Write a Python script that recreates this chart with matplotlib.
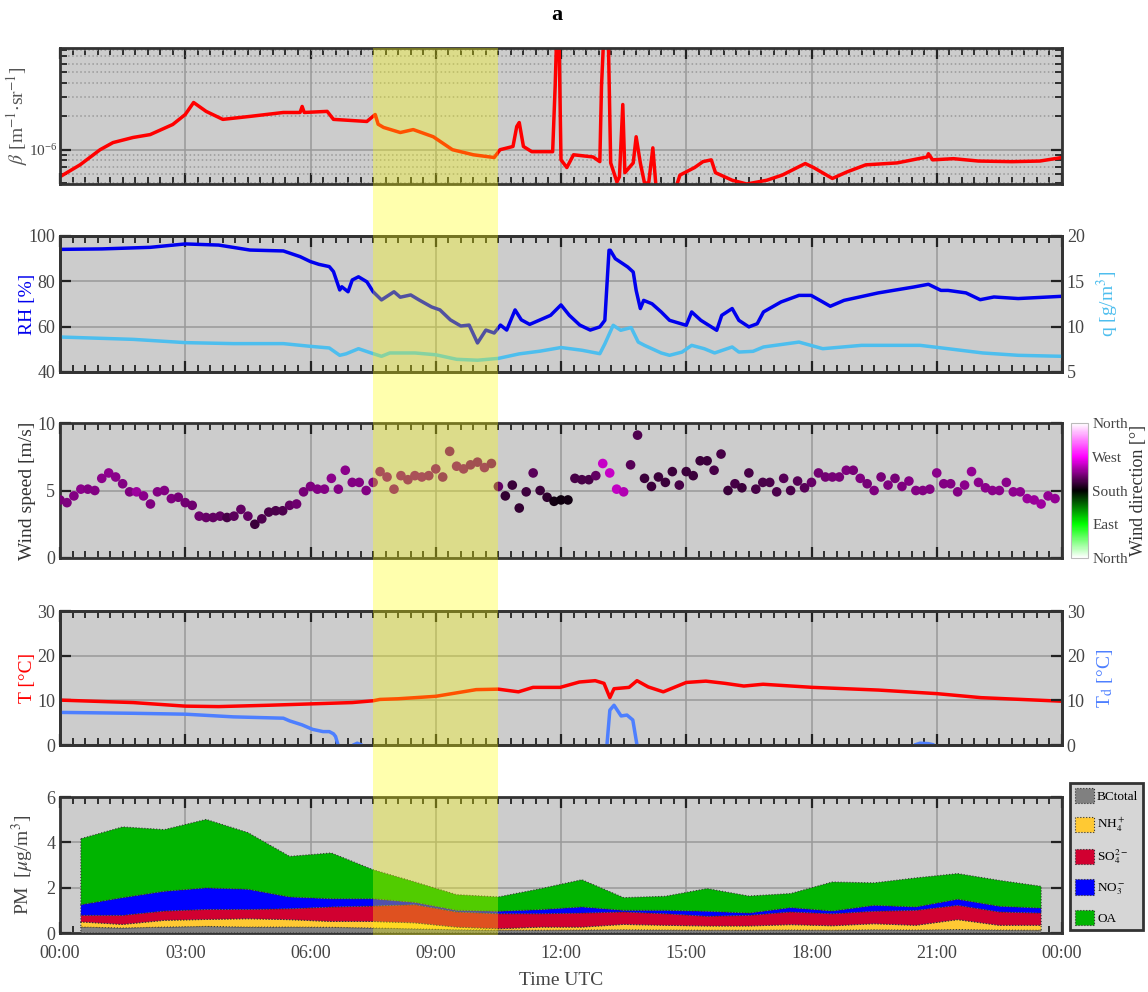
import numpy as np
import matplotlib.pyplot as plt
import matplotlib.transforms as mtransforms
from matplotlib.colors import LinearSegmentedColormap, Normalize
from matplotlib.patches import Rectangle, Patch
from matplotlib.ticker import MultipleLocator, FuncFormatter, LogLocator, NullFormatter, FixedLocator

plt.rcParams['font.family'] = ['Liberation Serif', 'DejaVu Serif']
plt.rcParams['mathtext.fontset'] = 'stix'

# backscatter coefficient (units of 1e-6 m-1 sr-1), NaN = no data
beta_hours = [0.0, 0.48, 0.96, 1.27, 1.75, 2.16, 2.7, 3.0, 3.2, 3.5, 3.9, 4.55, 5.35, 5.75, 5.8, 5.85,
              6.4, 6.55, 7.35, 7.55, 7.62, 7.75, 8.15, 8.46, 8.94, 9.4, 9.9, 10.4, 10.54, 10.85, 10.94,
              11.0, 11.1, 11.3, 11.8, 11.86, 11.9, 11.95, 12.0, 12.14, 12.3, 12.77, 12.93, 12.97, 13.03,
              13.13, 13.19, 13.34, 13.4, 13.48, 13.53, 13.73, 13.8, 13.9, 14.0, 14.1, 14.2, 14.27, 14.5,
              14.78, 14.85, 15.2, 15.4, 15.6, 15.7, 16.1, 16.45, 16.93, 17.3, 17.85, 18.05, 18.5, 18.85,
              19.3, 20.05, 20.77, 20.8, 20.9, 21.4, 22.0, 22.8, 23.47, 24.0]
beta_vals = [0.57, 0.73, 1.0, 1.16, 1.29, 1.37, 1.69, 2.08, 2.67, 2.22, 1.88, 2.0, 2.17, 2.17, 2.46, 2.17,
             2.22, 1.88, 1.80, 2.08, 1.70, 1.59, 1.43, 1.52, 1.31, 1.0, 0.90, 0.85, 1.0, 1.07, 1.62,
             1.76, 1.07, 0.96, 0.96, 3.74, 12.0, 12.0, 0.81, 0.69, 0.90, 0.86, 0.78, 3.74, 12.0,
             12.0, 0.76, 0.51, 0.57, 2.56, 0.62, 0.76, 1.31, 0.76, 0.50, 0.50, 1.04, 0.49, np.nan,
             0.49, 0.59, 0.69, 0.78, 0.81, 0.62, 0.53, 0.49, 0.53, 0.59, 0.75, 0.69, 0.55, 0.63,
             0.73, 0.76, 0.86, 0.92, 0.81, 0.83, 0.79, 0.78, 0.79, 0.85]

# relative humidity [%] and absolute humidity [g/m3]
rh_hours = [0, 1.0, 2.16, 3.0, 3.8, 4.55, 5.35, 5.75, 6.0, 6.2, 6.45, 6.55, 6.7, 6.75, 6.9, 7.0, 7.15,
            7.35, 7.5, 7.7, 8.0, 8.15, 8.4, 8.6, 8.9, 9.1, 9.35, 9.6, 9.8, 10.0, 10.2, 10.4, 10.55,
            10.7, 10.9, 11.05, 11.25, 11.5, 11.75, 12.0, 12.2, 12.45, 12.7, 12.93, 13.05, 13.15, 13.18,
            13.3, 13.48, 13.6, 13.73, 13.8, 13.9, 13.98, 14.18, 14.4, 14.6, 15.0, 15.13, 15.35, 15.73,
            15.85, 16.1, 16.26, 16.5, 16.7, 16.85, 17.27, 17.7, 17.99, 18.27, 18.45, 18.78, 19.6, 20.45,
            20.8, 21.1, 21.27, 21.7, 22.04, 22.37, 22.95, 23.37, 24.0]
rh = [94.1, 94.3, 95.0, 96.5, 96.0, 93.8, 93.4, 90.9, 88.7, 87.5, 86.5, 84.3, 76.2, 77.6, 75.4, 80.6, 82.0,
      79.8, 75.4, 71.8, 75.4, 73.0, 74.0, 71.8, 68.7, 67.4, 63.0, 60.3, 60.7, 52.8, 58.5, 57.2, 60.7,
      58.5, 67.4, 63.0, 61.0, 63.0, 65.0, 69.6, 65.0, 60.7, 58.5, 59.9, 62.8, 93.7, 93.7,
      90.0, 87.8, 86.3, 84.1, 76.0, 68.0, 71.6, 70.1, 66.5, 62.8, 60.6, 66.5, 62.8, 58.4,
      65.0, 68.0, 62.8, 59.9, 61.3, 66.5, 70.9, 73.8, 73.8, 70.9, 69.0, 71.6, 74.9, 77.5,
      78.7, 76.0, 76.0, 74.9, 71.9, 73.1, 72.4, 72.8, 73.4]

q_hours = [0, 1.75, 3.0, 4.15, 5.35, 6.0, 6.45, 6.7, 6.85, 7.15, 7.45, 7.7, 7.9, 8.5, 9.0, 9.5, 10.0,
           10.5, 11.0, 11.5, 12.0, 12.5, 12.93, 13.05, 13.25, 13.43, 13.68, 13.85, 14.0, 14.4, 14.6,
           14.9, 15.13, 15.43, 15.68, 16.1, 16.26, 16.6, 16.85, 17.7, 18.27, 19.2, 20.6, 21.27, 22.1,
           22.95, 24.0]
q = [8.86, 8.6, 8.24, 8.13, 8.13, 7.83, 7.65, 6.84, 7.0, 7.57, 7.1, 6.73, 7.1, 7.1, 6.9, 6.4, 6.3,
     6.5, 7.0, 7.3, 7.7, 7.4, 7.02, 8.1, 10.15, 9.6, 9.9, 8.3, 7.94, 7.1, 6.84,
     7.2, 7.94, 7.57, 7.1, 7.76, 7.2, 7.28, 7.76, 8.3, 7.57, 7.94, 7.94, 7.57, 7.1,
     6.84, 6.73]

# wind, 10-min values: speed [m/s] and direction [deg]
wind_hours = np.arange(144) / 6
wind_speed = [4.3, 4.1, 4.6, 5.1, 5.1, 5.0, 5.9, 6.3, 6.0, 5.5,
              4.9, 4.9, 4.6, 4.0, 4.9, 5.0, 4.4, 4.5, 4.1, 3.9,
              3.1, 3.0, 3.0, 3.1, 3.0, 3.1, 3.6, 3.1, 2.5, 2.9,
              3.4, 3.5, 3.5, 3.9, 4.0, 4.9, 5.3, 5.1, 5.1, 5.9,
              5.1, 6.5, 5.6, 5.6, 5.0, 5.6, 6.4, 6.0, 5.1, 6.1,
              5.8, 6.1, 6.0, 6.1, 6.6, 6.0, 7.9, 6.8, 6.6, 6.9,
              7.1, 6.7, 7.0, 5.3, 4.6, 5.4, 3.7, 4.9, 6.3, 5.0,
              4.5, 4.2, 4.3, 4.3, 5.9, 5.8, 5.8, 6.1, 7.0, 6.3,
              5.1, 4.9, 6.9, 9.1, 5.9, 5.3, 6.0, 5.6, 6.4, 5.4,
              6.4, 6.1, 7.2, 7.2, 6.5, 7.7, 5.0, 5.5, 5.2, 6.3,
              5.1, 5.6, 5.6, 4.9, 5.9, 5.0, 5.7, 5.2, 5.6, 6.3,
              6.0, 6.0, 6.0, 6.5, 6.5, 5.9, 5.5, 5.0, 6.0, 5.4,
              5.9, 5.3, 5.7, 5.0, 5.0, 5.1, 6.3, 5.5, 5.5, 4.9,
              5.4, 6.4, 5.6, 5.2, 5.0, 5.0, 5.6, 4.9, 4.9, 4.4,
              4.3, 4.0, 4.6, 4.4]
wind_dir = [222, 224, 225, 228, 226, 226, 228, 230, 228, 226,
            224, 236, 228, 224, 226, 226, 224, 222, 220, 218,
            218, 216, 214, 214, 204, 212, 214, 214, 200, 208,
            206, 206, 208, 214, 218, 222, 224, 226, 226, 228,
            226, 228, 226, 226, 226, 226, 226, 226, 224, 226,
            224, 226, 226, 224, 224, 222, 222, 224, 224, 222,
            222, 224, 220, 214, 198, 200, 198, 202, 212, 200,
            196, 186, 185, 187, 204, 204, 204, 214, 250, 250,
            248, 242, 210, 208, 200, 200, 200, 200, 200, 204,
            200, 200, 200, 200, 204, 204, 200, 204, 200, 204,
            204, 206, 206, 206, 210, 206, 210, 210, 216, 220,
            220, 222, 222, 224, 222, 224, 222, 224, 222, 224,
            222, 224, 226, 226, 226, 226, 228, 226, 226, 226,
            228, 232, 228, 228, 228, 228, 228, 230, 230, 234,
            234, 236, 232, 232]

# air temperature and dew point [degC]
t_hours = [0, 1.75, 3.0, 3.8, 5.0, 6.0, 7.0, 7.5, 7.66, 8.1, 9.0, 9.97, 10.5, 10.98, 11.33, 11.98, 12.44,
           12.82, 13.03, 13.17, 13.27, 13.63, 13.82, 14.09, 14.45, 15.0, 15.47, 15.93, 16.38, 16.84,
           18.03, 19.6, 21.0, 22.06, 24.0]
temp = [10.05, 9.5, 8.7, 8.6, 8.9, 9.2, 9.5, 9.9, 10.2, 10.35, 10.9, 12.4, 12.5, 11.9, 12.9, 12.9, 14.1,
        14.4, 13.8, 10.6, 12.6, 12.9, 14.4, 13.0, 11.9, 14.0, 14.3, 13.8, 13.2, 13.6,
        12.9, 12.3, 11.5, 10.6, 9.8]
td_hours = [0, 1.75, 3.0, 4.15, 5.35, 5.5, 5.8, 6.05, 6.3, 6.45, 6.55, 6.6, 6.66, 6.7, 7.05, 7.12, 7.2,
            7.25, 13.1, 13.17, 13.27, 13.44, 13.58, 13.72, 13.82, 13.9, 20.5, 20.6, 20.8, 20.9]
dewpoint = [7.3, 7.1, 6.9, 6.3, 6.0, 5.4, 4.5, 3.5, 3.0, 3.0, 2.5, 1.9, 0.0, np.nan, 0.1, 0.4, 0.1,
            np.nan, 0.0, 7.8, 8.9, 6.5, 6.7, 5.6, 0.0, np.nan, 0.1, 0.4, 0.3, 0.1]

# hourly PM composition [ug/m3]
pm_hours = np.arange(24) + 0.5
bc = [0.26, 0.22, 0.26, 0.29, 0.26, 0.26, 0.25, 0.22, 0.18, 0.14, 0.12, 0.12, 0.13, 0.14, 0.13, 0.12,
      0.12, 0.13, 0.12, 0.14, 0.13, 0.15, 0.13, 0.12]
nh4 = [0.23, 0.16, 0.30, 0.31, 0.37, 0.33, 0.26, 0.29, 0.27, 0.12, 0.07, 0.14, 0.13, 0.24, 0.21, 0.19,
       0.19, 0.24, 0.20, 0.27, 0.21, 0.44, 0.21, 0.22]
so4 = [0.29, 0.40, 0.41, 0.44, 0.41, 0.48, 0.64, 0.68, 0.80, 0.67, 0.66, 0.59, 0.62, 0.55, 0.51, 0.43,
       0.47, 0.56, 0.53, 0.55, 0.66, 0.63, 0.59, 0.54]
no3 = [0.47, 0.78, 0.87, 0.95, 0.89, 0.52, 0.36, 0.32, 0.10, 0.07, 0.11, 0.18, 0.27, 0.07, 0.15, 0.22,
       0.10, 0.19, 0.12, 0.26, 0.15, 0.27, 0.25, 0.22]
oa = [2.91, 3.12, 2.72, 3.02, 2.50, 1.79, 2.02, 1.28, 0.90, 0.69, 0.63, 0.92, 1.20, 0.56, 0.62, 1.00,
      0.75, 0.62, 1.28, 0.99, 1.28, 1.13, 1.14, 0.96]
pm_labels = ['BCtotal', 'NH$_4^+$', 'SO$_4^{2-}$', 'NO$_3^-$', 'OA']
pm_colors = ['#808080', '#ffc933', '#d10030', '#0000ff', '#00b400']

highlight = (7.5, 10.5)

W, H = 1148, 992


def box(x0, y0, x1, y1):
    return [x0 / W, 1 - y1 / H, (x1 - x0) / W, (y1 - y0) / H]


def style(ax, bottom_labels=False):
    ax.set_facecolor('#cccccc')
    ax.set_xlim(0, 24)
    ax.xaxis.set_major_locator(MultipleLocator(3))
    ax.xaxis.set_minor_locator(MultipleLocator(0.3))
    ax.xaxis.set_major_formatter(FuncFormatter(lambda v, p: '%02d:00' % (int(round(v)) % 24)))
    ax.tick_params(which='both', direction='in', top=True, bottom=True, color='#222222',
                   labelcolor='#444444', labelsize=13, labelbottom=bottom_labels)
    ax.tick_params(which='major', length=8, width=1.6)
    ax.tick_params(which='minor', length=5, width=1.3)
    ax.grid(True, which='major', color='#999999', linewidth=1.1)
    for s in ax.spines.values():
        s.set_linewidth(2)
        s.set_color('#333333')


def style_right(ax):
    ax.tick_params(axis='y', direction='in', length=8, width=1.6, color='#222222',
                   labelcolor='#444444', labelsize=13)
    for s in ax.spines.values():
        s.set_linewidth(2)
        s.set_color('#333333')


fig = plt.figure(figsize=(W / 100, H / 100), dpi=100)

# backscatter
ax1 = fig.add_axes(box(60, 48, 1062, 184))
style(ax1)
ax1.plot(beta_hours, np.array(beta_vals) * 1e-6, color='red', lw=2.5)
ax1.set_yscale('log')
ax1.set_ylim(4.9e-7, 8.3e-6)
ax1.yaxis.set_major_locator(LogLocator(base=10))
ax1.yaxis.set_minor_locator(LogLocator(base=10, subs=np.arange(2, 10)))
ax1.yaxis.set_minor_formatter(NullFormatter())
ax1.tick_params(axis='y', which='both', left=True, right=True, labelsize=11, pad=2)
ax1.grid(True, which='minor', axis='y', color='#999999', linestyle=':', linewidth=1.1)
ax1.set_ylabel(r'$\beta$ [m$^{-1}$$\cdot$sr$^{-1}$]', fontsize=14, color='#555555')
ax1.yaxis.set_label_coords(-0.03, 0.5)

# humidity
ax2 = fig.add_axes(box(60, 236, 1062, 372))
style(ax2)
ax2.plot(rh_hours, rh, color='#0000ee', lw=2.5)
ax2.set_ylim(40, 100)
ax2.yaxis.set_major_locator(FixedLocator([40, 60, 80, 100]))
ax2.tick_params(axis='y', right=False)
ax2.set_ylabel('RH [%]', fontsize=14, color='#0000ee')
ax2.yaxis.set_label_coords(-0.024, 0.5)
ax2r = ax2.twinx()
ax2r.plot(q_hours, q, color='#4dbeee', lw=2.5)
ax2r.set_ylim(5, 20)
ax2r.yaxis.set_major_locator(FixedLocator([5, 10, 15, 20]))
style_right(ax2r)
ax2r.set_ylabel('q [g/m$^3$]', fontsize=14, color='#4dbeee', rotation=90)
ax2r.yaxis.set_label_coords(1.033, 0.5)

# wind
wind_cmap = LinearSegmentedColormap.from_list('wdir', ['white', '#00ff00', 'black', '#ff00ff', 'white'])
ax3 = fig.add_axes(box(60, 423, 1062, 558))
style(ax3)
sc = ax3.scatter(wind_hours, wind_speed, c=wind_dir, cmap=wind_cmap, norm=Normalize(0, 360),
                 s=48, edgecolors='none', zorder=3)
ax3.set_ylim(0, 10)
ax3.yaxis.set_major_locator(FixedLocator([0, 5, 10]))
ax3.tick_params(axis='y', right=True)
ax3.set_ylabel('Wind speed [m/s]', fontsize=14, color='#333333')
ax3.yaxis.set_label_coords(-0.024, 0.5)
cax = fig.add_axes(box(1071, 423, 1088, 558))
cb = fig.colorbar(sc, cax=cax, ticks=[0, 90, 180, 270, 360])
cb.ax.set_yticklabels(['North', 'East', 'South', 'West', 'North'])
cb.ax.tick_params(length=0, labelsize=11, labelcolor='#444444', pad=3)
cb.outline.set_edgecolor('#bbbbbb')
cb.set_label('Wind direction [°]', fontsize=13, color='#333333')
cb.ax.yaxis.set_label_coords(3.45, 0.5)

# temperature
ax4 = fig.add_axes(box(60, 611, 1062, 745))
style(ax4)
ax4.plot(t_hours, temp, color='red', lw=2.5)
ax4.set_ylim(0, 30)
ax4.yaxis.set_major_locator(FixedLocator([0, 10, 20, 30]))
ax4.tick_params(axis='y', right=False)
ax4.set_ylabel('T [°C]', fontsize=14, color='red')
ax4.yaxis.set_label_coords(-0.024, 0.5)
ax4r = ax4.twinx()
ax4r.plot(td_hours, dewpoint, color='#4d7fff', lw=2.5)
ax4r.set_ylim(0, 30)
ax4r.yaxis.set_major_locator(FixedLocator([0, 10, 20, 30]))
style_right(ax4r)
ax4r.set_ylabel('T$_\\mathrm{d}$ [°C]', fontsize=14, color='#4d7fff', rotation=90)
ax4r.yaxis.set_label_coords(1.033, 0.5)

# PM composition
ax5 = fig.add_axes(box(60, 797, 1062, 933))
style(ax5, bottom_labels=True)
ax5.tick_params(axis='x', which='major', pad=9)
stacks = ax5.stackplot(pm_hours, bc, nh4, so4, no3, oa, colors=pm_colors, zorder=3)
for poly in stacks:
    poly.set_edgecolor('#333333')
    poly.set_linestyle(':')
    poly.set_linewidth(0.8)
ax5.set_ylim(0, 6)
ax5.yaxis.set_major_locator(FixedLocator([0, 2, 4, 6]))
ax5.tick_params(axis='y', right=True)
ax5.set_ylabel(r'PM  [$\mu$g/m$^3$]', fontsize=14, color='#444444')
ax5.yaxis.set_label_coords(-0.024, 0.5)
ax5.set_xlabel('Time UTC', fontsize=14, color='#444444', labelpad=7)

handles = [Patch(facecolor=c, edgecolor='#333333', linestyle=':', linewidth=0.8, label=l)
           for c, l in zip(pm_colors, pm_labels)]
leg = fig.legend(handles=handles, loc='upper left', bbox_to_anchor=(1070 / W, 1 - 783 / H),
                 frameon=True, fancybox=False, edgecolor='#333333', facecolor='#d6d6d6',
                 framealpha=1, fontsize=9.5, handlelength=1.5, handleheight=1.4, labelspacing=1.0,
                 borderpad=0.35, handletextpad=0.2, borderaxespad=0)
leg.get_frame().set_linewidth(2)

# shaded period across all panels
trans = mtransforms.blended_transform_factory(ax5.transData, fig.transFigure)
fig.add_artist(Rectangle((highlight[0], 1 - 935 / H), highlight[1] - highlight[0], (935 - 48) / H,
                         transform=trans, facecolor='#ffff00', edgecolor='none', alpha=0.32, zorder=10))

fig.text(557 / W, 1 - 15 / H, 'a', fontsize=16, fontweight='bold', ha='center', va='center')

fig.savefig('out.png', dpi=100)
